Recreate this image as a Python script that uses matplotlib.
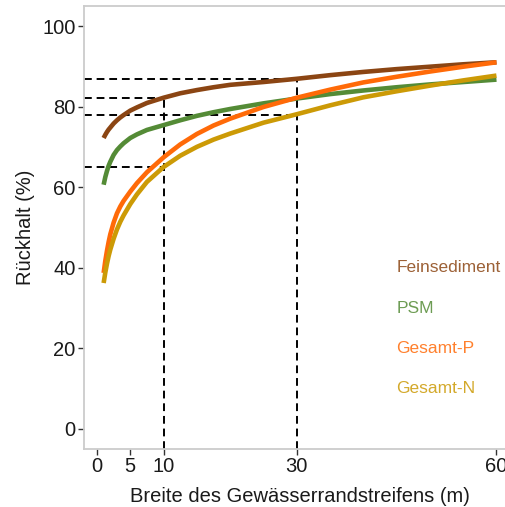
import matplotlib
matplotlib.use("Agg")
import matplotlib.pyplot as plt

plt.rcParams['font.family'] = ['Liberation Sans', 'DejaVu Sans']

# Breite des Randstreifens (m)
breite = [1, 1.25, 1.5, 1.75, 2, 2.5, 3, 3.5, 4, 5, 6, 7.5, 10, 12.5, 15, 17.5, 20, 25, 30, 35, 40, 45, 50, 55, 60]

feinsediment = [72.2, 73.0, 73.7, 74.3, 74.8, 75.8, 76.6, 77.3, 77.9, 79.0, 79.8, 80.9, 82.2, 83.3, 84.1, 84.8,
                85.4, 86.1, 86.9, 87.8, 88.6, 89.3, 89.9, 90.5, 91.0]
psm = [60.6, 62.5, 64.0, 65.3, 66.3, 68.0, 69.2, 70.1, 70.9, 72.2, 73.1, 74.2, 75.4, 76.6, 77.7, 78.6,
       79.4, 80.8, 82.0, 83.1, 84.0, 84.8, 85.5, 86.1, 86.7]
gesamt_p = [38.7, 41.7, 44.2, 46.4, 48.3, 51.2, 53.5, 55.2, 56.6, 58.9, 61.0, 63.7, 67.4, 70.6, 73.2, 75.3,
            77.0, 79.9, 82.2, 84.2, 86.0, 87.4, 88.7, 89.9, 91.0]
gesamt_n = [36.2, 38.8, 41.0, 42.9, 44.5, 47.2, 49.5, 51.4, 53.0, 55.8, 58.2, 61.3, 65.0, 67.8, 70.0, 71.8,
            73.3, 76.0, 78.1, 80.3, 82.3, 83.8, 85.2, 86.5, 87.7]

namen = ["Feinsediment", "PSM", "Gesamt-P", "Gesamt-N"]
farben = ["#8B4513", "#548B36", "#FF6A08", "#CC9A06"]
label_y = [40, 30, 20, 10]

# Hilfslinien: (x, y)
hilfs_x = [10, 10, 30, 30]
hilfs_y = [82.2, 65.0, 86.8, 78.0]

fig = plt.figure(figsize=(5.06, 5.07), dpi=100)
ax = fig.add_axes([0.166, 0.1144, 0.854, 0.874])

xmin, ymin = -1.95, -5

for hx, hy in zip(hilfs_x, hilfs_y):
    ax.plot([xmin, hx], [hy, hy], color="black", lw=1.4, ls=(0, (4, 2.5)), zorder=1)
for hx in [10, 30]:
    top = max(hy for x2, hy in zip(hilfs_x, hilfs_y) if x2 == hx)
    ax.plot([hx, hx], [ymin, top], color="black", lw=1.4, ls=(0, (4, 2.5)), zorder=1)

for werte, f in zip([feinsediment, psm, gesamt_p, gesamt_n], farben):
    ax.plot(breite, werte, color=f, lw=3.3, solid_capstyle="butt", solid_joinstyle="round", zorder=2)

for name, f, ly in zip(namen, farben, label_y):
    ax.text(45, ly, name, color=f, alpha=0.85, fontsize=12.5, va="center", ha="left")

ax.set_xlim(xmin, 62.95)
ax.set_ylim(ymin, 105)
ax.set_xticks([0, 5, 10, 30, 60])
ax.set_yticks([0, 20, 40, 60, 80, 100])

for s in ax.spines.values():
    s.set_color("#cccccc")
    s.set_linewidth(1.3)

ax.tick_params(axis="both", colors="#333333", length=4, width=1, labelsize=14.5, labelcolor="#1a1a1a", pad=2)

ax.set_xlabel("Breite des Gewässerrandstreifens (m)", fontsize=14.5, color="#1a1a1a", labelpad=8)
ax.set_ylabel("Rückhalt (%)", fontsize=14.5, color="#1a1a1a", labelpad=5)

fig.savefig("out.png", dpi=100)
